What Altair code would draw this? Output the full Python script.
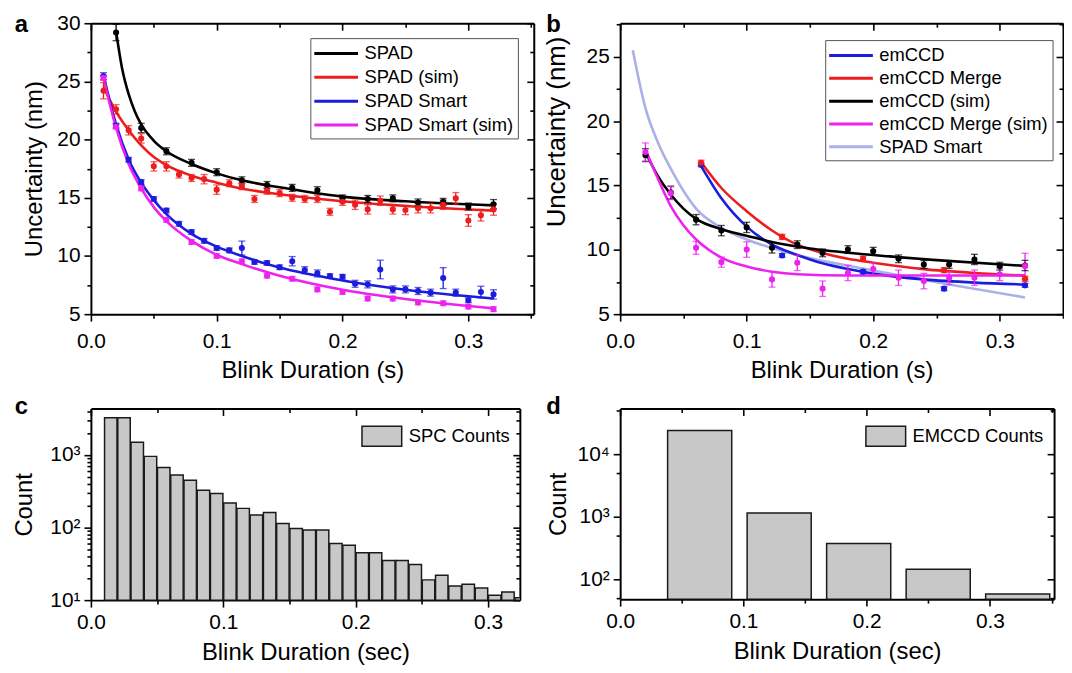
import altair as alt
import pandas as pd

FONT = "Liberation Sans"

# ---------------- Panel a ----------------
a_series = ["SPAD", "SPAD (sim)", "SPAD Smart", "SPAD Smart (sim)"]
a_colors = ["#000000", "#ee1c1c", "#1c1cdc", "#ee22ee"]

# fitted curves
a_line_spad_x = [0.02, 0.025, 0.03, 0.035, 0.04, 0.05, 0.06, 0.08, 0.10, 0.12, 0.15, 0.20, 0.25, 0.32]
a_line_spad_y = [29.3, 26.0, 23.9, 22.4, 21.3, 19.9, 19.0, 17.9, 17.1, 16.5, 15.9, 15.1, 14.7, 14.35]
a_line_x = [0.01, 0.02, 0.03, 0.04, 0.05, 0.06, 0.08, 0.10, 0.12, 0.15, 0.20, 0.25, 0.32]
a_line_sim_y = [24.5, 22.4, 20.8, 19.5, 18.5, 17.8, 16.9, 16.3, 15.8, 15.3, 14.7, 14.3, 13.9]
a_line_smart_y = [25.5, 21.3, 18.3, 16.3, 14.8, 13.6, 11.9, 10.8, 10.0, 9.0, 7.9, 7.1, 6.35]
a_line_smartsim_y = [25.3, 21.0, 17.9, 15.8, 14.2, 13.0, 11.3, 10.1, 9.3, 8.3, 7.1, 6.3, 5.5]

# measured points
a_spad_x = [0.02, 0.04, 0.06, 0.08, 0.10, 0.12, 0.14, 0.16, 0.18, 0.20, 0.22, 0.24, 0.26, 0.28, 0.30, 0.32]
a_spad_y = [29.2, 21.0, 19.0, 18.0, 17.2, 16.5, 16.1, 15.85, 15.65, 14.95, 14.9, 14.95, 14.6, 14.65, 14.25, 14.45]
a_spad_e = [0.7, 0.4, 0.3, 0.3, 0.3, 0.3, 0.3, 0.3, 0.3, 0.3, 0.3, 0.3, 0.3, 0.3, 0.3, 0.4]

a_all_x = [0.01, 0.02, 0.03, 0.04, 0.05, 0.06, 0.07, 0.08, 0.09, 0.10, 0.11, 0.12, 0.13, 0.14, 0.15, 0.16,
           0.17, 0.18, 0.19, 0.20, 0.21, 0.22, 0.23, 0.24, 0.25, 0.26, 0.27, 0.28, 0.29, 0.30, 0.31, 0.32]
a_sim_y = [24.2, 22.6, 20.8, 20.1, 17.7, 17.7, 17.0, 16.7, 16.6, 15.7, 16.25, 16.0, 14.9, 15.6, 15.4, 15.0,
           14.9, 14.9, 13.8, 14.65, 14.4, 14.0, 14.75, 14.0, 13.95, 14.1, 14.1, 14.4, 14.95, 13.05, 13.5, 14.0]
a_sim_e = [0.7, 0.4, 0.4, 0.4, 0.4, 0.4, 0.3, 0.3, 0.4, 0.4, 0.3, 0.3, 0.3, 0.3, 0.3, 0.3,
           0.3, 0.3, 0.3, 0.3, 0.4, 0.4, 0.4, 0.4, 0.4, 0.4, 0.4, 0.4, 0.5, 0.5, 0.5, 0.5]
a_smart_y = [25.45, 21.2, 18.27, 16.36, 14.9, 13.9, 12.76, 12.05, 11.3, 10.68, 10.48, 10.68, 9.49, 9.4, 9.03, 9.55,
             8.78, 8.5, 8.27, 8.21, 7.61, 7.56, 8.84, 7.13, 7.13, 6.99, 6.85, 8.1, 6.85, 6.2, 6.9, 6.7]
a_smart_e = [0.3, 0.2, 0.2, 0.2, 0.2, 0.2, 0.2, 0.2, 0.2, 0.2, 0.2, 0.6, 0.2, 0.2, 0.2, 0.4,
             0.3, 0.3, 0.2, 0.2, 0.3, 0.3, 0.8, 0.3, 0.3, 0.3, 0.3, 0.9, 0.3, 0.2, 0.5, 0.4]
a_smartsim_x = [0.01, 0.02, 0.04, 0.06, 0.08, 0.10, 0.12, 0.14, 0.16, 0.18, 0.20, 0.22, 0.24, 0.26, 0.28, 0.30, 0.32]
a_smartsim_y = [25.3, 21.1, 15.8, 13.1, 11.2, 10.0, 9.55, 8.3, 8.04, 7.13, 6.9, 6.34, 6.34, 6.0, 5.94, 5.65, 5.43]
a_smartsim_e = [0.2, 0.2, 0.2, 0.2, 0.2, 0.2, 0.2, 0.2, 0.2, 0.2, 0.2, 0.2, 0.2, 0.2, 0.2, 0.2, 0.2]

# ---------------- Panel b ----------------
b_series = ["emCCD", "emCCD Merge", "emCCD (sim)", "emCCD Merge (sim)", "SPAD Smart"]
b_colors = ["#1c1cdc", "#ee1c1c", "#000000", "#ee22ee", "#aab0e8"]

b_line_blue_x = [0.064, 0.08, 0.10, 0.12, 0.14, 0.16, 0.18, 0.20, 0.24, 0.28, 0.32]
b_line_blue_y = [16.5, 14.0, 11.8, 10.4, 9.6, 8.95, 8.5, 8.15, 7.7, 7.45, 7.3]
b_line_red_y = [16.8, 14.8, 13.0, 11.5, 10.4, 9.75, 9.3, 9.0, 8.5, 8.2, 8.0]
b_line_black_x = [0.02, 0.03, 0.04, 0.05, 0.06, 0.08, 0.10, 0.12, 0.15, 0.20, 0.25, 0.32]
b_line_black_y = [17.6, 15.7, 14.3, 13.2, 12.4, 11.6, 11.1, 10.6, 10.1, 9.6, 9.2, 8.75]
b_line_mag_x = [0.02, 0.03, 0.04, 0.05, 0.06, 0.07, 0.08, 0.10, 0.12, 0.14, 0.18, 0.32]
b_line_mag_y = [17.8, 15.5, 13.4, 11.9, 10.8, 10.0, 9.4, 8.7, 8.3, 8.1, 8.0, 8.0]
b_line_lav_x = [0.01, 0.02, 0.03, 0.04, 0.06, 0.08, 0.10, 0.14, 0.20, 0.26, 0.32]
b_line_lav_y = [25.5, 21.0, 18.3, 16.3, 13.2, 11.7, 10.8, 9.6, 8.4, 7.3, 6.3]

b_em_x = [0.064, 0.128, 0.192, 0.256, 0.32]
b_blue_y = [16.6, 9.56, 8.3, 6.98, 7.24]
b_blue_e = [0.15, 0.15, 0.15, 0.15, 0.15]
b_red_y = [16.76, 11.0, 9.3, 8.42, 7.75]
b_red_e = [0.2, 0.2, 0.2, 0.2, 0.2]
b_sim_x = [0.02, 0.04, 0.06, 0.08, 0.10, 0.12, 0.14, 0.16, 0.18, 0.20, 0.22, 0.24, 0.26, 0.28, 0.30, 0.32]
b_black_y = [17.35, 14.45, 12.34, 11.49, 11.74, 10.15, 10.4, 9.76, 10.02, 9.89, 9.3, 8.86, 8.86, 9.25, 8.73, 8.78]
b_black_e = [0.5, 0.5, 0.4, 0.4, 0.4, 0.4, 0.3, 0.3, 0.3, 0.3, 0.3, 0.3, 0.3, 0.4, 0.3, 0.4]
b_mag_y = [17.6, 14.4, 10.15, 9.04, 10.02, 7.7, 8.99, 6.98, 8.2, 8.5, 7.83, 7.57, 7.8, 7.83, 8.1, 8.73]
b_mag_e = [0.7, 0.5, 0.5, 0.4, 0.6, 0.6, 0.6, 0.6, 0.6, 0.5, 0.6, 0.6, 0.5, 0.6, 0.5, 1.0]

# ---------------- Panel c ----------------
c_centers = [0.015, 0.025, 0.035, 0.045, 0.055, 0.065, 0.075, 0.085, 0.095, 0.105, 0.115, 0.125, 0.135, 0.145, 0.155, 0.165,
             0.175, 0.185, 0.195, 0.205, 0.215, 0.225, 0.235, 0.245, 0.255, 0.265, 0.275, 0.285, 0.295, 0.305, 0.315, 0.325]
c_counts = [3240, 3240, 1490, 950, 670, 525, 445, 324, 294, 217, 183, 148, 160, 113, 97, 92,
            92, 60, 57, 45, 45, 35, 35, 31, 19, 22, 15.7, 16.5, 14.7, 11.7, 12.9, 10.8]
c_halfwidth = 0.0047

# ---------------- Panel d ----------------
d_centers = [0.0645, 0.129, 0.1935, 0.258, 0.3225]
d_counts = [24000, 1150, 373, 144, 58]
d_halfwidth = 0.026


def lines_frame(entries):
    rows = []
    for name, xs, ys in entries:
        for i, (x, y) in enumerate(zip(xs, ys)):
            rows.append({"series": name, "x": x, "y": y, "i": i})
    return pd.DataFrame(rows)


def points_frame(entries):
    rows = []
    for name, xs, ys, es in entries:
        for x, y, e in zip(xs, ys, es):
            rows.append({"series": name, "x": x, "y": y, "lo": y - e, "hi": y + e})
    return pd.DataFrame(rows)


X_MINOR = "round(datum.value*20) % 2 == 1"
X_LABEL = "round(datum.value*20) % 2 == 0 ? format(datum.value, '.1f') : ''"
Y_MINOR = "datum.value % 5 != 0"
Y_LABEL = "datum.value % 5 == 0 ? format(datum.value, 'd') : ''"
LOG_MINOR = "indexof([10, 100, 1000, 10000, 100000], datum.value) < 0"
LOG_LABEL = ("datum.value == 10 ? '10\u00b9' : datum.value == 100 ? '10\u00b2' : "
             "datum.value == 1000 ? '10\u00b3' : datum.value == 10000 ? '10\u2074' : ''")


def tsize(test, major=7, minor=4):
    return {"condition": {"test": test, "value": minor}, "value": major}


def mirror_layer(df, xfield, yfield, xscale, yscale, xvals, yvals, xminor, yminor, w, h):
    return alt.Chart(df).mark_point(opacity=0).encode(
        x=alt.X(xfield, scale=xscale,
                axis=alt.Axis(values=xvals, orient="bottom", offset=-h, labels=False, title=None,
                              tickSize=tsize(xminor), grid=False)),
        y=alt.Y(yfield, scale=yscale,
                axis=alt.Axis(values=yvals, orient="left", offset=-w, labels=False, title=None,
                              tickSize=tsize(yminor), grid=False)),
    )


def letter_layer(letter, lx, ly):
    return alt.Chart(pd.DataFrame({"t": [letter]})).mark_text(
        font=FONT, fontSize=24, fontWeight="bold", align="center", baseline="alphabetic", color="black"
    ).encode(text="t:N", x=alt.value(lx), y=alt.value(ly))


def line_panel(ldf, pdf, series, colors, xdom, ydom, xvals, yvals, w, h, legend_xy, row_pad, letter, letter_xy,
               ytitle_x, ytitle_y, ytitle_size):
    xscale = alt.Scale(domain=xdom, nice=False, zero=False)
    yscale = alt.Scale(domain=ydom, nice=False, zero=False)
    xax = alt.Axis(values=xvals, title="Blink Duration (s)", labelExpr=X_LABEL, tickSize=tsize(X_MINOR),
                   labelFlush=False, labelOverlap=False, grid=False, orient="bottom",
                   labelPadding=10, titlePadding=7)
    yax = alt.Axis(values=yvals, title="Uncertainty (nm)", labelExpr=Y_LABEL, tickSize=tsize(Y_MINOR),
                   labelFlush=False, labelOverlap=False, grid=False, orient="left", labelPadding=4,
                   titleX=ytitle_x, titleY=ytitle_y, titleBaseline="middle", titleFontSize=ytitle_size)
    X = alt.X("x:Q", scale=xscale, axis=xax)
    Y = alt.Y("y:Q", scale=yscale, axis=yax)
    cscale = alt.Scale(domain=series, range=colors)
    legend = alt.Legend(title=None, orient="none", legendX=legend_xy[0], legendY=legend_xy[1],
                        strokeColor="#555555", fillColor="white", padding=4,
                        labelFont=FONT, labelFontSize=18.5, labelColor="black", labelLimit=400,
                        symbolType="M-2.2,0H2.2", symbolSize=400, symbolStrokeWidth=3,
                        symbolOffset=10.5, labelOffset=17, rowPadding=row_pad)
    col_leg = alt.Color("series:N", scale=cscale, legend=legend)
    col = alt.Color("series:N", scale=cscale, legend=None)

    lines = alt.Chart(ldf).mark_line(interpolate="monotone", strokeWidth=2.6).encode(
        x=X, y=Y, color=col_leg, order="i:Q")
    stems = alt.Chart(pdf).mark_rule(strokeWidth=1.3).encode(
        x=X, y=alt.Y("lo:Q", scale=yscale, axis=yax), y2="hi:Q", color=col)
    cap_lo = alt.Chart(pdf).mark_tick(orient="horizontal", size=7, thickness=1.3).encode(
        x=X, y=alt.Y("lo:Q", scale=yscale, axis=yax), color=col)
    cap_hi = alt.Chart(pdf).mark_tick(orient="horizontal", size=7, thickness=1.3).encode(
        x=X, y=alt.Y("hi:Q", scale=yscale, axis=yax), color=col)
    pts = alt.Chart(pdf).mark_circle(size=38, opacity=1).encode(x=X, y=Y, color=col)
    main = alt.layer(lines, stems, cap_lo, cap_hi, pts, letter_layer(letter, *letter_xy))
    mirror = mirror_layer(ldf, "x:Q", "y:Q", xscale, yscale, xvals, yvals, X_MINOR, Y_MINOR, w, h)
    return alt.layer(main, mirror).resolve_scale(x="independent", y="independent").properties(width=w, height=h)


def bar_panel(centers, counts, half, label, xdom, ydom, xvals, yvals, w, h, legend_xy, letter, letter_xy,
              ytitle_x):
    df = pd.DataFrame({"x0": [c - half for c in centers], "x1": [c + half for c in centers],
                       "count": counts, "label": [label] * len(counts)})
    xscale = alt.Scale(domain=xdom, nice=False, zero=False)
    yscale = alt.Scale(type="log", domain=ydom, nice=False)
    xax = alt.Axis(values=xvals, title="Blink Duration (sec)", labelExpr=X_LABEL, tickSize=tsize(X_MINOR),
                   labelFlush=False, labelOverlap=False, grid=False, orient="bottom",
                   labelPadding=5, titlePadding=8)
    yax = alt.Axis(values=yvals, title="Count", labelExpr=LOG_LABEL, tickSize=tsize(LOG_MINOR),
                   labelFlush=False, labelOverlap=False, grid=False, orient="left", labelPadding=4,
                   titleX=ytitle_x, titleBaseline="middle")
    legend = alt.Legend(title=None, orient="none", legendX=legend_xy[0], legendY=legend_xy[1],
                        padding=0, labelFont=FONT, labelFontSize=18.5, labelColor="black",
                        symbolType="M-1,-0.5H1V0.5H-1Z", symbolSize=1600, symbolStrokeColor="#1a1a1a",
                        symbolStrokeWidth=1.5, labelOffset=6, labelLimit=400)
    bars = alt.Chart(df).mark_bar(stroke="#1a1a1a", strokeWidth=1.5, clip=True).encode(
        x=alt.X("x0:Q", scale=xscale, axis=xax), x2="x1:Q",
        y=alt.Y("count:Q", scale=yscale, axis=yax), y2=alt.datum(ydom[0]),
        color=alt.Color("label:N", scale=alt.Scale(domain=[label], range=["#c8c8c8"]), legend=legend))
    main = alt.layer(bars, letter_layer(letter, *letter_xy))
    mirror = mirror_layer(df, "x0:Q", "count:Q", xscale, yscale, xvals, yvals, X_MINOR, LOG_MINOR, w, h)
    return alt.layer(main, mirror).resolve_scale(x="independent", y="independent").properties(width=w, height=h)


# ---- assemble data frames ----
a_lines = lines_frame([
    ("SPAD", a_line_spad_x, a_line_spad_y),
    ("SPAD (sim)", a_line_x, a_line_sim_y),
    ("SPAD Smart", a_line_x, a_line_smart_y),
    ("SPAD Smart (sim)", a_line_x, a_line_smartsim_y),
])
a_pts = points_frame([
    ("SPAD", a_spad_x, a_spad_y, a_spad_e),
    ("SPAD (sim)", a_all_x, a_sim_y, a_sim_e),
    ("SPAD Smart", a_all_x, a_smart_y, a_smart_e),
    ("SPAD Smart (sim)", a_smartsim_x, a_smartsim_y, a_smartsim_e),
])
b_lines = lines_frame([
    ("SPAD Smart", b_line_lav_x, b_line_lav_y),
    ("emCCD", b_line_blue_x, b_line_blue_y),
    ("emCCD Merge", b_line_blue_x, b_line_red_y),
    ("emCCD (sim)", b_line_black_x, b_line_black_y),
    ("emCCD Merge (sim)", b_line_mag_x, b_line_mag_y),
])
b_pts = points_frame([
    ("emCCD", b_em_x, b_blue_y, b_blue_e),
    ("emCCD Merge", b_em_x, b_red_y, b_red_e),
    ("emCCD (sim)", b_sim_x, b_black_y, b_black_e),
    ("emCCD Merge (sim)", b_sim_x, b_mag_y, b_mag_e),
])

xv_35 = [0.0, 0.05, 0.1, 0.15, 0.2, 0.25, 0.3, 0.35]
xv_30 = [0.0, 0.05, 0.1, 0.15, 0.2, 0.25, 0.3]

pa = line_panel(a_lines, a_pts, a_series, a_colors, [0, 0.352], [5, 30], xv_35,
                [5, 7.5, 10, 12.5, 15, 17.5, 20, 22.5, 25, 27.5, 30], 446, 293,
                (221, 15), 3, "a", (-70, 8.5), -57, 146.5, 24)
pb = line_panel(b_lines, b_pts, b_series, b_colors, [0, 0.35], [5, 27.6], xv_35,
                [5, 7.5, 10, 12.5, 15, 17.5, 20, 22.5, 25, 27.5], 446, 293,
                (206.5, 17), 2, "b", (-67, 8.5), -64, 109, 26)
pc = bar_panel(c_centers, c_counts, c_halfwidth, "SPC Counts", [0, 0.324], [10, 4330], xv_30,
               [10, 20, 30, 40, 50, 60, 70, 80, 90, 100, 200, 300, 400, 500, 600, 700, 800, 900,
                1000, 2000, 3000, 4000], 432, 193, (272, 7), "c", (-70, 5.5), -67)
pd_ = bar_panel(d_centers, d_counts, d_halfwidth, "EMCCD Counts", [0, 0.352], [48, 54000], xv_35,
                [50, 100, 500, 1000, 5000, 10000, 50000], 437, 192, (246.5, 7), "d", (-67, 5.5), -62)

row1 = alt.hconcat(pa, pb, spacing=8).resolve_scale(color="independent")
row2 = alt.hconcat(pc, pd_, spacing=25).resolve_scale(color="independent")
chart = alt.vconcat(row1, row2, spacing=12).resolve_scale(color="independent").properties(
    padding={"left": 4.5, "top": 2, "right": 0, "bottom": 0}
).configure(font=FONT).configure_axis(
    labelFont=FONT, titleFont=FONT, labelFontSize=21, titleFontSize=24, titleFontWeight="normal",
    labelColor="black", titleColor="black", domainColor="black", tickColor="black",
    domainWidth=2, tickWidth=1.6
).configure_view(stroke=None)

chart.save("out.html", embed_options={"renderer": "svg", "actions": False})
